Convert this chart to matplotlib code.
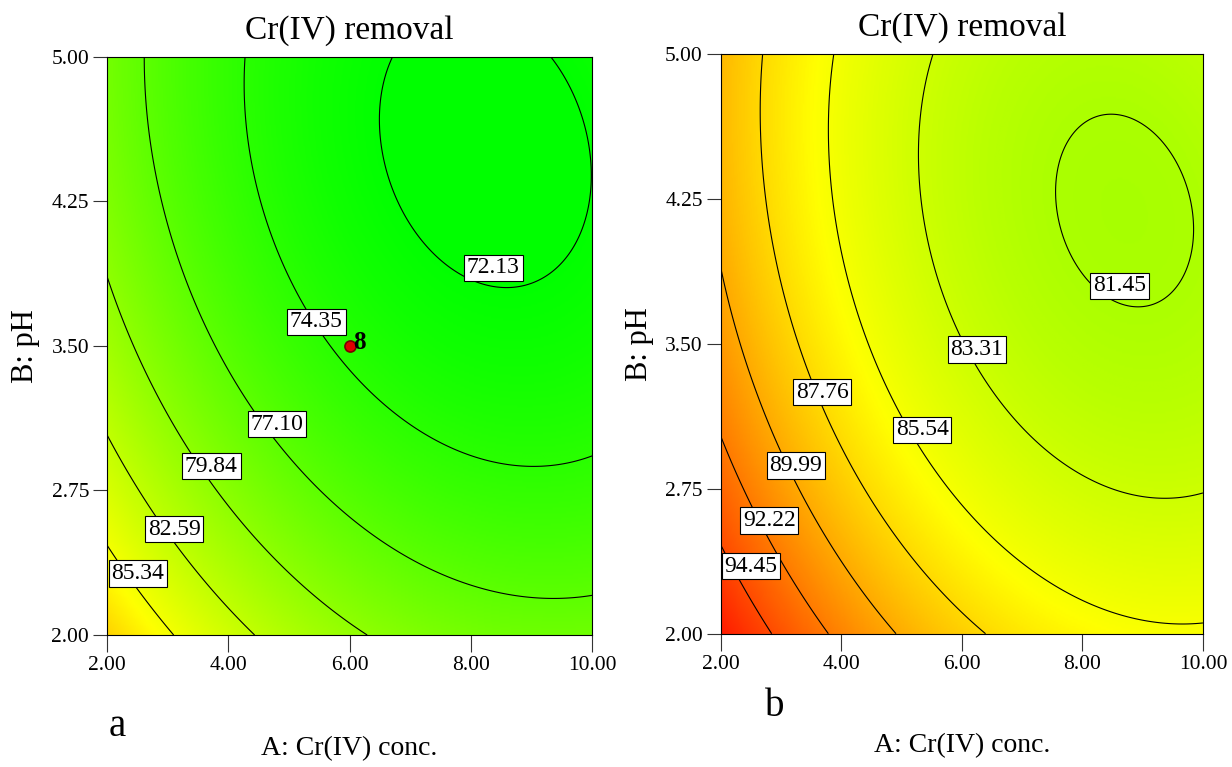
#==========================================================================
# Cr(IV) removal - contour plots of the two fitted response surfaces
#==========================================================================
import numpy as np
import matplotlib.pyplot as plt
from matplotlib.colors import LinearSegmentedColormap

plt.rcParams['font.family'] = 'Liberation Serif'

# fitted quadratic models: b0, A, B, AB, A^2, B^2
coef_a = [111.84, -3.770, -10.909, 0.1738, 0.181, 1.046]
coef_b = [118.62, -3.936, -9.682, 0.167, 0.186, 0.982]

# contour levels as printed on the plots
levels_a = [72.13, 74.35, 77.10, 79.84, 82.59, 85.34]
levels_b = [81.45, 83.31, 85.54, 87.76, 89.99, 92.22, 94.45]

# where the level boxes sit (A, B)
label_pos_a = [(8.37, 3.905), (5.45, 3.625), (4.80, 3.095),
               (3.72, 2.877), (3.105, 2.55), (2.51, 2.32)]
label_pos_b = [(8.61, 3.80), (6.25, 3.47), (5.34, 3.055), (3.68, 3.25),
               (3.245, 2.87), (2.80, 2.585), (2.50, 2.35)]

# centre point of the design and number of replicates
design_pt = (6.0, 3.5)
design_n = '8'

xticks = [2.00, 4.00, 6.00, 8.00, 10.00]
yticks = [2.00, 2.75, 3.50, 4.25, 5.00]

# green -> yellow -> red response colouring
cmap = LinearSegmentedColormap.from_list(
    'de', [(0.0, '#00ff00'), (14 / 26, '#ffff00'), (1.0, '#ff0000')])
zmin, zmax = 72, 98


def surface(c, A, B):
    return c[0] + c[1] * A + c[2] * B + c[3] * A * B + c[4] * A ** 2 + c[5] * B ** 2


fig = plt.figure(figsize=(12.32, 7.67), dpi=100)
ax1 = fig.add_axes([0.0869, 0.1721, 0.3937, 0.7536])
ax2 = fig.add_axes([0.5852, 0.1738, 0.3912, 0.7558])

A = np.linspace(2, 10, 400)
B = np.linspace(2, 5, 300)
AA, BB = np.meshgrid(A, B)

panels = [(ax1, coef_a, levels_a, label_pos_a, -0.175),
          (ax2, coef_b, levels_b, label_pos_b, -0.172)]

for ax, coef, levels, lpos, xl_y in panels:
    Z = surface(coef, AA, BB)
    ax.imshow(Z, extent=[2, 10, 2, 5], origin='lower', aspect='auto',
              cmap=cmap, vmin=zmin, vmax=zmax, interpolation='bilinear')
    ax.contour(AA, BB, Z, levels=levels, colors='black', linewidths=0.8)
    # level boxes
    for lev, (x, y) in zip(levels, lpos):
        ax.text(x, y, '%.2f' % lev, fontsize=17, ha='center', va='center', zorder=4,
                bbox=dict(boxstyle='square,pad=0.12', fc='white', ec='black', lw=0.8))

    ax.set_xlim(2, 10)
    ax.set_ylim(2, 5)
    ax.set_xticks(xticks)
    ax.set_yticks(yticks)
    ax.set_xticklabels(['%.2f' % v for v in xticks])
    ax.set_yticklabels(['%.2f' % v for v in yticks])
    ax.tick_params(axis='x', length=12, width=0.8, pad=3, labelsize=15.5, color='#333333')
    ax.tick_params(axis='y', length=10, width=0.8, pad=3, labelsize=15.5, color='#333333')
    for s in ax.spines.values():
        s.set_linewidth(0.8)

    ax.set_title('Cr(IV) removal', fontsize=24, pad=13)
    ax.set_xlabel('A: Cr(IV) conc.', fontsize=20)
    ax.set_ylabel('B: pH', fontsize=22)
    ax.xaxis.set_label_coords(0.5, xl_y)
    ax.yaxis.set_label_coords(-0.138, 0.5)

# design point on the first plot
ax1.plot(design_pt[0], design_pt[1], 'o', ms=8, mfc='#e00000', mec='#7a0000',
         mew=1.2, zorder=5)
ax1.text(design_pt[0] + 0.06, design_pt[1] + 0.02, design_n, fontsize=18,
         fontweight='bold', ha='left', va='center', zorder=6)

fig.text(117 / 1232, 1 - 727 / 767, 'a', fontsize=28, ha='center', va='center')
fig.text(775 / 1232, 1 - 707 / 767, 'b', fontsize=28, ha='center', va='center')

fig.savefig('out.png', dpi=100)
